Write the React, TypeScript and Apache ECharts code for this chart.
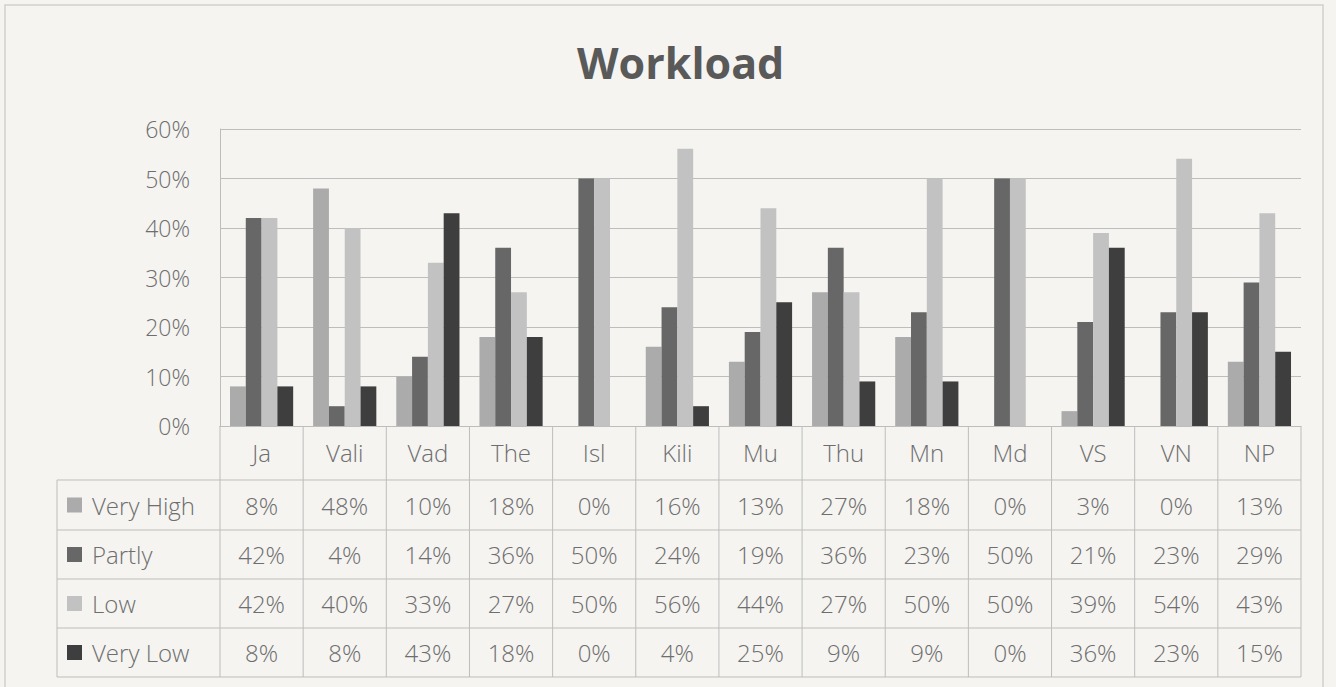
import React, { useEffect, useRef } from "react";
import * as echarts from "echarts";

const title = "Workload";
const categories = ["Ja", "Vali", "Vad", "The", "Isl", "Kili", "Mu", "Thu", "Mn", "Md", "VS", "VN", "NP"];
const seriesNames = ["Very High", "Partly", "Low", "Very Low"];
const veryHigh = [8, 48, 10, 18, 0, 16, 13, 27, 18, 0, 3, 0, 13];
const partly = [42, 4, 14, 36, 50, 24, 19, 36, 23, 50, 21, 23, 29];
const low = [42, 40, 33, 27, 50, 56, 44, 27, 50, 50, 39, 54, 43];
const veryLow = [8, 8, 43, 18, 0, 4, 25, 9, 9, 0, 36, 23, 15];
const yTicks = { min: 0, max: 60, interval: 10 };

const seriesValues = [veryHigh, partly, low, veryLow];
const colors = ["#ababab", "#676767", "#c2c2c2", "#3e3e3e"];

const W = 1336;
const H = 687;
const GL = 220;
const GR = 1301;
const GT = 129;
const GB = 426;
const TL = 57;
const ROWS = [480, 530, 579, 628, 677];
const FONT = "'Open Sans', 'DejaVu Sans', sans-serif";
const TEXT = "#6e6e6e";
const LINE = "#bdbdbd";

export default function App() {
  const ref = useRef<HTMLDivElement>(null);
  useEffect(() => {
    if (!ref.current) return;
    const chart = echarts.init(ref.current, undefined, { renderer: "svg" });
    const n = categories.length;
    const cw = (GR - GL) / n;
    const graphics: any[] = [];
    graphics.push({
      type: "rect",
      shape: { x: 5, y: 5, width: 1318, height: 700 },
      style: { fill: "none", stroke: "#cfcfcf", lineWidth: 1.5 },
      z: 0,
    });
    graphics.push({
      type: "text",
      x: 577,
      y: 62,
      style: { text: title, font: `bold 43px ${FONT}`, fill: "#595959", textVerticalAlign: "middle" },
    });
    ROWS.forEach((y) => {
      graphics.push({
        type: "line",
        shape: { x1: TL, y1: y, x2: GR, y2: y },
        style: { stroke: LINE, lineWidth: 1 },
      });
    });
    graphics.push({
      type: "line",
      shape: { x1: TL, y1: ROWS[0], x2: TL, y2: ROWS[ROWS.length - 1] },
      style: { stroke: LINE, lineWidth: 1 },
    });
    for (let i = 0; i <= n; i++) {
      const x = GL + i * cw;
      graphics.push({
        type: "line",
        shape: { x1: x, y1: GB, x2: x, y2: ROWS[ROWS.length - 1] },
        style: { stroke: LINE, lineWidth: 1 },
      });
    }
    seriesNames.forEach((name, r) => {
      const cy = (ROWS[r] + ROWS[r + 1]) / 2;
      graphics.push({
        type: "rect",
        shape: { x: 67, y: cy - 7.5, width: 15, height: 15 },
        style: { fill: colors[r] },
      });
      graphics.push({
        type: "text",
        x: 92,
        y: cy,
        style: { text: name, font: `300 24px ${FONT}`, fill: TEXT, textVerticalAlign: "middle" },
      });
      seriesValues[r].forEach((v, i) => {
        graphics.push({
          type: "text",
          x: GL + (i + 0.5) * cw,
          y: cy,
          style: {
            text: `${v}%`,
            font: `300 24px ${FONT}`,
            fill: TEXT,
            textAlign: "center",
            textVerticalAlign: "middle",
          },
        });
      });
    });

    chart.setOption({
      animation: false,
      backgroundColor: "#f5f4f1",
      grid: { left: GL, right: W - GR, top: GT, bottom: H - GB, containLabel: false },
      xAxis: {
        type: "category",
        data: categories,
        axisLine: { show: true, lineStyle: { color: LINE } },
        axisTick: { show: false },
        axisLabel: { color: TEXT, fontSize: 24, fontWeight: 300, fontFamily: FONT, margin: 14 },
      },
      yAxis: {
        type: "value",
        min: yTicks.min,
        max: yTicks.max,
        interval: yTicks.interval,
        axisLine: { show: true, lineStyle: { color: LINE } },
        axisTick: { show: false },
        splitLine: { show: true, lineStyle: { color: LINE, width: 1 } },
        axisLabel: {
          color: TEXT,
          fontSize: 23,
          fontWeight: 300,
          fontFamily: FONT,
          margin: 30,
          formatter: "{value}%",
        },
      },
      series: seriesNames.map((name, r) => ({
        name,
        type: "bar",
        data: seriesValues[r],
        itemStyle: { color: colors[r] },
        barGap: "0%",
        barCategoryGap: "24%",
      })),
      graphic: graphics,
    });
    return () => chart.dispose();
  }, []);
  return (
    <div
      ref={ref}
      style={{ position: "absolute", left: 0, top: 0, width: W, height: H }}
    />
  );
}
